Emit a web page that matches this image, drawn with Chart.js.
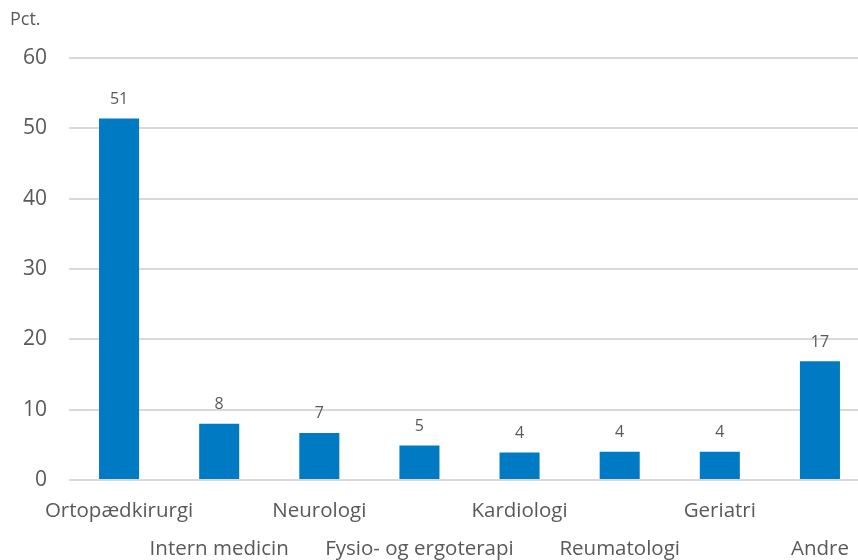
<!DOCTYPE html>
<html>
<head>
<meta charset="utf-8">
<script src="https://cdn.jsdelivr.net/npm/chart.js@4"></script>
<style>
  html, body { margin: 0; padding: 0; background: #fff; overflow: hidden; }
  #wrap { width: 870px; height: 560px; }
</style>
</head>
<body>
<div id="wrap"><canvas id="chart"></canvas></div>
<script>
// Kategorier og værdier (pct.)
const categories = ['Ortopædkirurgi', 'Intern medicin', 'Neurologi', 'Fysio- og ergoterapi',
                    'Kardiologi', 'Reumatologi', 'Geriatri', 'Andre'];
const values = [51.4, 8.0, 6.7, 4.9, 3.9, 4.0, 4.0, 16.9];
const yTicks = [0, 10, 20, 30, 40, 50, 60];
const unitLabel = 'Pct.';

const textColor = '#595959';
const fontFamily = "'Open Sans', sans-serif";

// Tegner værdier over søjlerne og enhedsteksten øverst
const labelsPlugin = {
    id: 'barLabels',
    afterDatasetsDraw(chart) {
        const ctx = chart.ctx;
        const meta = chart.getDatasetMeta(0);
        ctx.save();
        ctx.fillStyle = textColor;
        ctx.font = '16px ' + fontFamily;
        ctx.textAlign = 'center';
        ctx.textBaseline = 'middle';
        meta.data.forEach(function(bar, i) {
            ctx.fillText(Math.round(values[i]), bar.x, bar.y - 19);
        });
        ctx.font = '18px ' + fontFamily;
        ctx.textAlign = 'left';
        ctx.fillText(unitLabel, 10, 20);
        ctx.restore();
    }
};

const ctx = document.getElementById('chart').getContext('2d');
new Chart(ctx, {
    type: 'bar',
    data: {
        labels: categories,
        datasets: [{
            data: values,
            backgroundColor: '#007AC2',
            barPercentage: 0.4,
            categoryPercentage: 1.0
        }]
    },
    options: {
        responsive: true,
        maintainAspectRatio: false,
        animation: false,
        layout: { padding: { top: 58, left: 0, right: 0, bottom: 0 } },
        plugins: {
            legend: { display: false },
            tooltip: { enabled: false }
        },
        scales: {
            x: {
                grid: { display: false },
                border: { display: false },
                ticks: {
                    autoSkip: false,
                    maxRotation: 0,
                    padding: 4,
                    color: textColor,
                    font: { family: fontFamily, size: 20.5, lineHeight: 1.85 },
                    callback: function(value, index) {
                        return index % 2 ? ['', categories[index]] : categories[index];
                    }
                },
                afterFit: function(scale) { scale.height = 80; }
            },
            y: {
                min: 0,
                max: 60,
                afterBuildTicks: function(scale) {
                    scale.ticks = yTicks.map(function(v) { return { value: v }; });
                },
                grid: { color: '#d9d9d9', lineWidth: 2, drawTicks: false },
                border: { display: false },
                ticks: {
                    padding: 22,
                    color: textColor,
                    font: { family: fontFamily, size: 21 }
                },
                afterFit: function(scale) { scale.width = 69; }
            }
        }
    },
    plugins: [labelsPlugin]
});
</script>
</body>
</html>
